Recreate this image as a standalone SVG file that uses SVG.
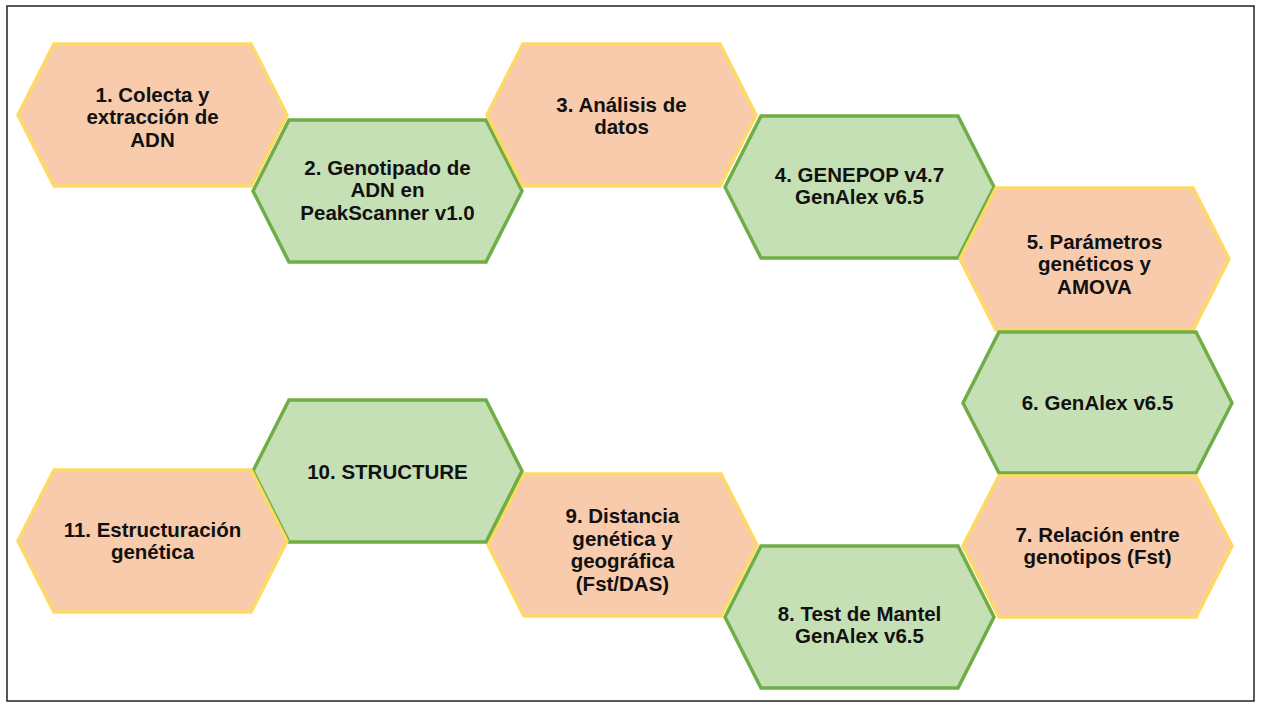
<svg xmlns="http://www.w3.org/2000/svg" width="1261" height="708" viewBox="0 0 1261 708">
<style>
.o{fill:#F8CBAD;stroke:#FFD966;stroke-width:3.5;stroke-linejoin:miter}
.g{fill:#C5E0B4;stroke:#70AD47;stroke-width:3.5;stroke-linejoin:miter}
.t{font-family:"Liberation Sans",Arial,sans-serif;font-weight:bold;font-size:20.5px;fill:#111;text-anchor:middle}
</style>
<rect x="0" y="0" width="1261" height="708" fill="#fff"/>
<rect x="7" y="6" width="1247" height="695" fill="none" stroke="#222" stroke-width="1.5"/>
<g id="connectors"></g>
<g id="n1"><polygon class="o" points="18,115 54,44 251,44 287,115 251,186 54,186"/>
<text class="t"><tspan x="152.5" y="101.5">1. Colecta y</tspan><tspan x="152.5" y="124">extracción de</tspan><tspan x="152.5" y="146.5">ADN</tspan></text></g>
<g id="n2"><polygon class="g" points="253,191 289,120 486,120 522,191 486,262 289,262"/>
<text class="t"><tspan x="387.5" y="174.5">2. Genotipado de</tspan><tspan x="387.5" y="197">ADN en</tspan><tspan x="387.5" y="219.5">PeakScanner v1.0</tspan></text></g>
<g id="n3"><polygon class="o" points="487,115 523,44 720,44 756,115 720,186 523,186"/>
<text class="t"><tspan x="621.5" y="111.75">3. Análisis de</tspan><tspan x="621.5" y="134.25">datos</tspan></text></g>
<g id="n4"><polygon class="g" points="725,187 761,116 958,116 994,187 958,258 761,258"/>
<text class="t"><tspan x="859.5" y="181.75">4. GENEPOP v4.7</tspan><tspan x="859.5" y="204.25">GenAlex v6.5</tspan></text></g>
<g id="n5"><polygon class="o" points="960,259 996,188 1193,188 1229,259 1193,330 996,330"/>
<text class="t"><tspan x="1094.5" y="248.5">5. Parámetros</tspan><tspan x="1094.5" y="271">genéticos y</tspan><tspan x="1094.5" y="293.5">AMOVA</tspan></text></g>
<g id="n6"><polygon class="g" points="963,403 999,332 1196,332 1232,403 1196,473 999,473"/>
<text class="t"><tspan x="1097.5" y="410">6. GenAlex v6.5</tspan></text></g>
<g id="n7"><polygon class="o" points="963,546 999,476 1196,476 1232,546 1196,617 999,617"/>
<text class="t"><tspan x="1097.5" y="541.75">7. Relación entre</tspan><tspan x="1097.5" y="564.25">genotipos (Fst)</tspan></text></g>
<g id="n8"><polygon class="g" points="725,617 761,546 958,546 994,617 958,688 761,688"/>
<text class="t"><tspan x="859.5" y="620.75">8. Test de Mantel</tspan><tspan x="859.5" y="643.25">GenAlex v6.5</tspan></text></g>
<g id="n9"><polygon class="o" points="488,545 524,474 721,474 757,545 721,616 524,616"/>
<text class="t"><tspan x="622.5" y="523.25">9. Distancia</tspan><tspan x="622.5" y="545.75">genética y</tspan><tspan x="622.5" y="568.25">geográfica</tspan><tspan x="622.5" y="590.75">(Fst/DAS)</tspan></text></g>
<g id="n10"><polygon class="g" points="253,471 289,400 486,400 522,471 486,542 289,542"/>
<text class="t"><tspan x="387.5" y="479">10. STRUCTURE</tspan></text></g>
<g id="n11"><polygon class="o" points="18,541 54,470 251,470 287,541 251,612 54,612"/>
<text class="t"><tspan x="152.5" y="536.75">11. Estructuración</tspan><tspan x="152.5" y="559.25">genética</tspan></text></g>
</svg>
